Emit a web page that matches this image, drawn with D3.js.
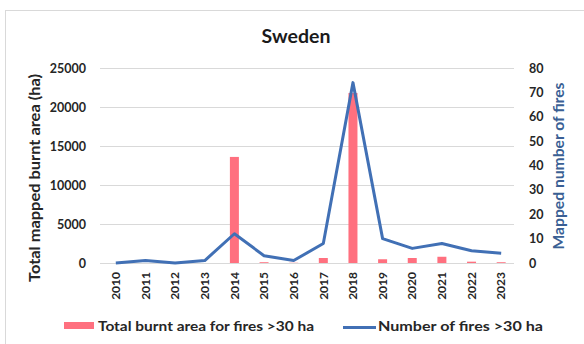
<!DOCTYPE html>
<html><head><meta charset="utf-8">
<script src="https://cdn.jsdelivr.net/npm/d3@7"></script>
<style>body{margin:0;background:#fff}</style>
</head><body><svg id="c" width="584" height="344"></svg>
<script>
const years = ["2010","2011","2012","2013","2014","2015","2016","2017","2018","2019","2020","2021","2022","2023"];
const burntArea = [0,0,0,0,13600,100,30,640,21800,480,640,800,170,100];
const fireCount = [0,1,0,1,12,3,1,8,74,10,6,8,5,4];
const leftTicks = [0,5000,10000,15000,20000,25000];
const rightTicks = [0,10,20,30,40,50,60,70,80];

const FONT = 'Lato, "Open Sans", sans-serif';
const TXT = "#262626";
const svg = d3.select("#c");
const m = {l:101, r:516, t:68, b:263};
svg.append("rect").attr("x",5.5).attr("y",10.5).attr("width",590).attr("height",340)
  .attr("fill","#fff").attr("stroke","#d9d9d9");

const x = d3.scaleBand().domain(years).range([m.l,m.r]);
const yL = d3.scaleLinear().domain([0,25000]).range([m.b,m.t]);
const yR = d3.scaleLinear().domain([0,80]).range([m.b,m.t]);

// grid
svg.append("g").selectAll("line").data(leftTicks).join("line")
  .attr("x1",m.l-1).attr("x2",m.r-2).attr("y1",d=>yL(d)+0.5).attr("y2",d=>yL(d)+0.5)
  .attr("stroke","#d9d9d9").attr("stroke-width",1);

// bars
const bw = 9;
svg.append("g").selectAll("rect").data(years).join("rect")
  .attr("x",d=>x(d)+x.bandwidth()/2-bw/2).attr("width",bw)
  .attr("y",(d,i)=>yL(burntArea[i])).attr("height",(d,i)=>m.b-yL(burntArea[i]))
  .attr("fill","#ff707f");

// line
svg.append("path").datum(fireCount)
  .attr("d",d3.line().x((d,i)=>x(years[i])+x.bandwidth()/2).y(d=>yR(d)))
  .attr("fill","none").attr("stroke","#4170b5").attr("stroke-width",3).attr("stroke-linejoin","round");

function styleTicks(g){
  g.select(".domain").remove();
  g.selectAll("text").attr("font-weight","bold").attr("fill",TXT).attr("font-family",FONT).attr("font-size",12.5);
}
const gL = svg.append("g").attr("transform",`translate(${m.l},0)`)
  .call(d3.axisLeft(yL).tickValues(leftTicks).tickFormat(d3.format("d")).tickSize(0).tickPadding(15));
styleTicks(gL);
const gR = svg.append("g").attr("transform",`translate(${m.r},0)`)
  .call(d3.axisRight(yR).tickValues(rightTicks).tickSize(0).tickPadding(13));
styleTicks(gR);

const gB = svg.append("g").attr("transform",`translate(0,${m.b})`)
  .call(d3.axisBottom(x).tickSize(0).tickPadding(0));
styleTicks(gB);
gB.selectAll("text").attr("transform","rotate(-90)").attr("text-anchor","end")
  .attr("x",-9).attr("y",0).attr("dy","0.35em").attr("font-size",12);

// titles
svg.append("text").attr("x",296).attr("y",43).attr("text-anchor","middle")
  .attr("font-size",19.5).attr("font-weight","bold").attr("fill","#1a1a1a").attr("font-family",FONT).text("Sweden");
svg.append("text").attr("transform","translate(40,178) rotate(-90)").attr("text-anchor","middle")
  .attr("font-size",15).attr("font-weight","bold").attr("fill",TXT).attr("font-family",FONT)
  .attr("textLength",208).attr("lengthAdjust","spacingAndGlyphs").text("Total mapped burnt area (ha)");
svg.append("text").attr("transform","translate(564,166) rotate(-90)").attr("text-anchor","middle")
  .attr("font-size",15).attr("font-weight","bold").attr("fill","#3a5f94").attr("font-family",FONT)
  .attr("textLength",167).attr("lengthAdjust","spacingAndGlyphs").text("Mapped number of fires");

// legend
svg.append("rect").attr("x",64).attr("y",322).attr("width",30).attr("height",7).attr("fill","#ff707f");
svg.append("text").attr("x",98).attr("y",331).attr("font-size",14).attr("font-weight","bold").attr("fill",TXT).attr("font-family",FONT)
  .attr("textLength",216).attr("lengthAdjust","spacingAndGlyphs").text("Total burnt area for fires >30 ha");
svg.append("line").attr("x1",343).attr("x2",376).attr("y1",327.5).attr("y2",327.5).attr("stroke","#4170b5").attr("stroke-width",3);
svg.append("text").attr("x",378).attr("y",331).attr("font-size",14).attr("font-weight","bold").attr("fill",TXT).attr("font-family",FONT)
  .attr("textLength",165).attr("lengthAdjust","spacingAndGlyphs").text("Number of fires >30 ha");
</script></body></html>
